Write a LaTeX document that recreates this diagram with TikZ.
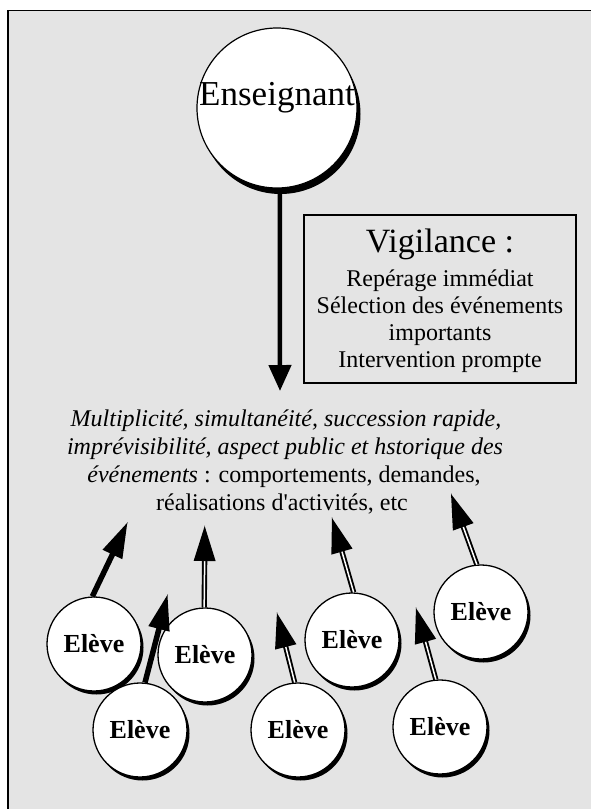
\documentclass[tikz,border=0pt]{standalone}
\usepackage{fontspec}
\setmainfont{Liberation Serif}[Ligatures=TeXOff]
\usetikzlibrary{arrows.meta,shadows,calc}
\definecolor{panel}{RGB}{228,228,228}

% shaft from a start point to the base of a filled triangular head at the tip
\newcommand\eleveArrow[3]{%
  \draw[#1] (#2) -- ($(#3)!33pt!(#2)$);
  \fill ($(#3)!2pt!(#2)$) -- (#3)
    -- ($(#3)!36pt!(#2)!11pt!90:(#3)$)
    -- ($(#3)!36pt!(#2)!11pt!-90:(#3)$) -- cycle;
}

\tikzset{
  teacher/.style={circle, draw=black, line width=1.2pt, fill=white,
    minimum size=160pt, inner sep=0pt,
    general shadow={fill=black, shadow xshift=3.5pt, shadow yshift=-6pt}},
  pupil/.style={circle, draw=black, line width=1.3pt, fill=white,
    minimum size=94pt, inner sep=0pt,
    font=\fontsize{26}{30}\selectfont\bfseries,
    general shadow={fill=black, shadow xshift=2.5pt, shadow yshift=-3.5pt}},
  solidshaft/.style={draw=black, line width=5.5pt},
  doubleshaft/.style={draw=black, line width=1.9pt, double=white, double distance=1.5pt},
  body/.style={anchor=base, inner sep=0pt, font=\fontsize{24}{28}\selectfont},
}

\begin{document}
\begin{tikzpicture}[x=1pt, y=-1pt]
\useasboundingbox (0,0) rectangle (591,809);
\clip (0,0) rectangle (591,809);

% grey panel with its frame
\draw[line width=1.3pt, fill=panel] (8,10.5) rectangle (650,870);

% teacher
\node[teacher] (ens) at (277,108) {};
\node[anchor=base, inner sep=0pt, font=\fontsize{35}{40}\selectfont] (enstext) at (277,105) {Enseignant};
\coordinate (enstip) at (280,391);
\draw[line width=4.5pt, -{Triangle[length=26pt,width=22pt]}] (ens.-88) -- (enstip);

% vigilance box
\node[draw=black, line width=1.3pt, minimum width=272pt, minimum height=168pt, inner sep=0pt] (vig) at (440,299) {};
\node[anchor=base, inner sep=0pt, font=\fontsize{34}{38}\selectfont] (vig0) at (440,252) {Vigilance :};
\node[body] (vig1) at (440,286) {Repérage immédiat};
\node[body] (vig2) at (440,313) {Sélection des événements};
\node[body] (vig3) at (440,340) {importants};
\node[body] (vig4) at (440,367) {Intervention prompte};

% events
\node[body] (ev1) at (286,426) {\itshape Multiplicité, simultanéité, succession rapide,};
\node[body] (ev2) at (285,454) {\itshape imprévisibilité, aspect public et hstorique des};
\node[body] (ev3) at (284,482) {\textit{événements} : comportements, demandes,};
\node[body] (ev4) at (282,510) {réalisations d'activités, etc};

% pupils
\node[pupil] (pa) at (94,644) {Elève};
\node[pupil] (pb) at (205,655) {Elève};
\node[pupil] (pc) at (140,730) {Elève};
\node[pupil] (pd) at (298,730) {Elève};
\node[pupil] (pe) at (352,640) {Elève};
\node[pupil] (pf) at (440,727) {Elève};
\node[pupil] (pg) at (481,612) {Elève};

\coordinate (ta) at (128,522);
\coordinate (tb) at (205,525);
\coordinate (tc) at (168,594);
\coordinate (td) at (277,612);
\coordinate (te) at (332,517);
\coordinate (tf) at (416,607);
\coordinate (tg) at (451,493);

\eleveArrow{solidshaft}{pa.92}{ta}
\eleveArrow{doubleshaft}{pb.91}{tb}
\eleveArrow{solidshaft}{pc.84}{tc}
\eleveArrow{doubleshaft}{pd.94}{td}
\eleveArrow{doubleshaft}{pe.88}{te}
\eleveArrow{doubleshaft}{pf.95}{tf}
\eleveArrow{doubleshaft}{pg.95}{tg}
\end{tikzpicture}
\end{document}
